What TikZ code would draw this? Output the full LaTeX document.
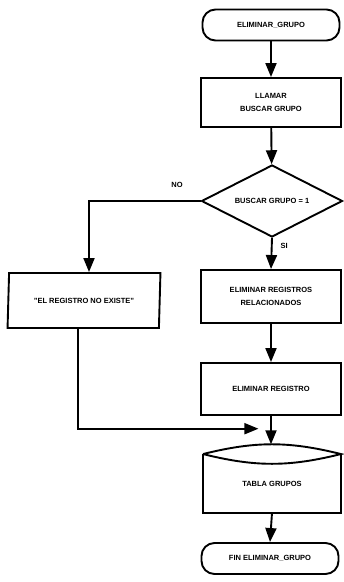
\documentclass[tikz,border=0pt]{standalone}
\usepackage{fontspec}
\setmainfont{Liberation Sans}
\usetikzlibrary{arrows.meta,shapes.geometric,calc}
\begin{document}
\begin{tikzpicture}[x=1pt,y=1pt,line width=1.9pt,
		flecha/.style={-{Triangle[width=11pt,length=14pt]}},
		texto/.style={font=\bfseries\fontsize{7.5}{13}\selectfont,align=center,inner sep=0pt},
		caja/.style={texto,draw,rectangle,minimum width=140pt},
		terminal/.style={texto,draw,rectangle,rounded corners=13pt,minimum width=137pt,minimum height=31pt},
		decide/.style={texto,draw,diamond,aspect=2,minimum width=141pt,minimum height=72pt},
		salida/.style={texto,draw,trapezium,trapezium left angle=79,trapezium right angle=101,
			trapezium stretches=true,minimum width=153pt,minimum height=55pt}]
	\useasboundingbox (0,0) rectangle (344,582);
	\node[terminal] (inicio) at (271,557) {ELIMINAR\_GRUPO};
	\node[caja,minimum height=49pt] (llamar) at (271,479.5) {LLAMAR\\BUSCAR GRUPO};
	\node[decide] (buscar) at (272,381) {BUSCAR GRUPO = 1};
	\node[caja,minimum height=53pt] (relacion) at (271,285.5) {ELIMINAR REGISTROS\\RELACIONADOS};
	\node[caja,minimum height=52pt] (registro) at (271,193) {ELIMINAR REGISTRO};
	\node[texto,rectangle,minimum width=136pt,minimum height=57pt] (tabla) at (272,98.5) {TABLA GRUPOS};
	\node[terminal] (fin) at (270,23.5) {FIN ELIMINAR\_GRUPO};
	\node[salida] (mensaje) at (84,281.5) {"EL REGISTRO NO EXISTE"};
	\node[texto] (etqno) at (177,397) {NO};
	\draw (tabla.north west) -- (tabla.south west) -- (tabla.south east) -- (tabla.north east);
	\draw (tabla.north west) to[bend left=14] coordinate[pos=0.5] (tapa) (tabla.north east)
		to[bend left=14] (tabla.north west);
	\coordinate (union) at ($(registro.south)!0.45!(tapa)$);
	\draw[flecha] (inicio) -- (llamar);
	\draw[flecha] (llamar) -- (buscar);
	\draw[flecha] (buscar.south) -- node[texto,pos=0.25,right=8pt] {SI} (relacion.north);
	\draw[flecha] (relacion) -- (registro);
	\draw[flecha] (registro.south) -- (registro.south |- tapa);
	\draw[flecha] (buscar.west) -| ([xshift=5pt]mensaje.north);
	\draw[flecha] ([xshift=-6pt]mensaje.south) |- ([xshift=-13pt]union);
	\draw[flecha] (tabla.south) -- (fin.north);
\end{tikzpicture}
\end{document}
